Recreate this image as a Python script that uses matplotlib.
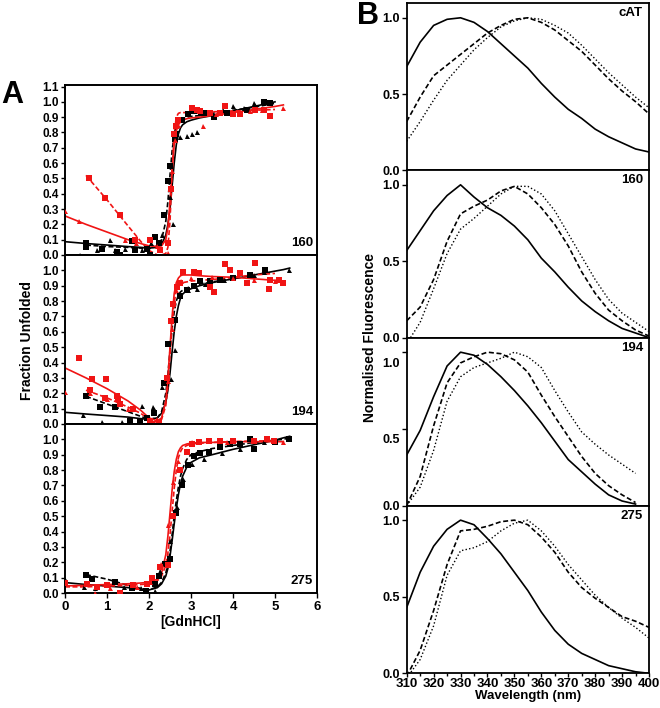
import numpy as np
import matplotlib
matplotlib.use("Agg")
import matplotlib.pyplot as plt
from matplotlib.ticker import MultipleLocator
import matplotlib.transforms as mtransforms

plt.rcParams['font.family'] = ['Liberation Sans', 'DejaVu Sans']
plt.rcParams['font.weight'] = 'bold'

RED = '#f01414'

# ---------------- Panel A data ----------------
PANEL_A_NAMES = ['160', '194', '275']

sq_blk_160_x = [0.5, 0.5, 0.87, 1.23, 1.31, 1.59, 1.67, 1.95, 2.03, 2.15, 2.23, 2.35, 2.46, 2.5, 2.62, 2.65, 2.78, 2.92, 3.08, 3.24, 3.34, 3.54, 3.86, 4.33, 4.73, 4.87]
sq_blk_160_y = [0.08, 0.05, 0.04, 0.02, 0.0, 0.09, 0.03, 0.04, 0.0, 0.12, 0.08, 0.26, 0.48, 0.58, 0.76, 0.79, 0.88, 0.92, 0.94, 0.93, 0.93, 0.90, 0.93, 0.95, 1.0, 0.99]
tri_blk_160_x = [0.36, 0.76, 1.07, 1.19, 1.43, 1.83, 2.04, 2.3, 2.5, 2.57, 2.74, 2.9, 3.02, 3.14, 3.5, 3.75, 4.01, 4.25, 4.49, 4.81]
tri_blk_160_y = [0.0, 0.03, 0.10, 0.03, 0.04, 0.03, 0.08, 0.13, 0.38, 0.20, 0.77, 0.78, 0.79, 0.80, 0.93, 0.95, 0.97, 0.96, 0.99, 1.0]
sq_red_160_x = [0.58, 0.95, 1.31, 1.67, 2.03, 2.25, 2.45, 2.52, 2.6, 2.64, 2.7, 3.02, 3.14, 3.22, 3.46, 3.7, 3.82, 4.01, 4.17, 4.53, 4.73, 4.89]
sq_red_160_y = [0.50, 0.37, 0.26, 0.10, 0.10, 0.03, 0.08, 0.43, 0.79, 0.84, 0.88, 0.96, 0.95, 0.94, 0.93, 0.93, 0.97, 0.92, 0.92, 0.95, 0.95, 0.91]
tri_red_160_x = [0.0, 0.34, 1.43, 1.7, 2.2, 2.46, 2.55, 2.62, 2.68, 3.28, 3.6, 4.0, 4.4, 4.7, 5.2]
tri_red_160_y = [0.29, 0.22, 0.10, 0.08, 0.06, 0.01, 0.55, 0.75, 0.85, 0.84, 0.92, 0.93, 0.94, 0.95, 0.96]

sq_blk_194_x = [0.5, 0.83, 1.19, 1.55, 1.79, 1.95, 2.12, 2.35, 2.46, 2.62, 2.74, 2.9, 3.06, 3.22, 3.46, 3.7, 4.01, 4.41, 4.77]
sq_blk_194_y = [0.18, 0.11, 0.11, 0.02, 0.01, 0.04, 0.07, 0.27, 0.52, 0.68, 0.83, 0.87, 0.9, 0.93, 0.93, 0.94, 0.95, 0.97, 1.0]
tri_blk_194_x = [0.44, 0.87, 1.35, 1.83, 2.1, 2.3, 2.52, 2.62, 2.94, 3.14, 3.34, 3.78, 4.01, 4.49, 4.73, 5.33]
tri_blk_194_y = [0.06, 0.01, 0.01, 0.12, 0.11, 0.24, 0.29, 0.48, 0.87, 0.88, 0.91, 0.94, 0.95, 0.97, 0.99, 1.0]
sq_red_194_x = [0.33, 0.6, 0.65, 0.98, 0.95, 1.23, 1.27, 1.31, 1.63, 2.03, 2.07, 2.23, 2.42, 2.52, 2.58, 2.66, 2.74, 2.82, 3.06, 3.2, 3.46, 3.54, 3.82, 3.93, 4.17, 4.33, 4.53, 4.85, 4.89, 5.09, 5.19]
sq_red_194_y = [0.43, 0.22, 0.29, 0.29, 0.17, 0.18, 0.16, 0.13, 0.10, 0.02, 0.0, 0.01, 0.30, 0.67, 0.78, 0.89, 0.92, 0.99, 0.99, 0.98, 0.89, 0.86, 1.04, 1.0, 0.98, 0.92, 1.05, 0.88, 0.94, 0.94, 0.92]
tri_red_194_x = [0.0, 0.6, 1.0, 1.5, 2.2, 2.45, 2.55, 2.65, 2.75, 3.0, 3.5, 4.0, 4.5, 5.0]
tri_red_194_y = [0.21, 0.20, 0.16, 0.10, 0.03, 0.28, 0.62, 0.87, 0.93, 0.95, 0.96, 0.95, 0.94, 0.93]

sq_blk_275_x = [0.5, 0.64, 1.19, 1.59, 1.93, 2.15, 2.23, 2.39, 2.5, 2.65, 2.78, 2.94, 3.08, 3.22, 3.42, 3.7, 3.93, 4.17, 4.41, 4.49, 4.81, 5.0, 5.33]
sq_blk_275_y = [0.12, 0.09, 0.07, 0.03, 0.01, 0.06, 0.11, 0.19, 0.22, 0.52, 0.70, 0.83, 0.89, 0.91, 0.92, 0.95, 0.97, 0.97, 1.0, 0.94, 1.0, 0.98, 1.0]
tri_blk_275_x = [0.0, 0.45, 0.72, 1.4, 1.8, 2.15, 2.27, 2.5, 2.66, 2.82, 3.02, 3.3, 3.74, 4.17, 4.73, 5.33]
tri_blk_275_y = [0.09, 0.04, 0.03, 0.04, 0.03, 0.01, 0.14, 0.34, 0.56, 0.74, 0.84, 0.87, 0.91, 0.94, 0.98, 1.01]
sq_red_275_x = [0.0, 0.52, 0.76, 0.99, 1.31, 1.63, 1.95, 2.07, 2.27, 2.46, 2.58, 2.74, 2.9, 3.02, 3.18, 3.42, 3.7, 4.01, 4.49, 4.81, 4.97]
sq_red_275_y = [0.065, 0.06, 0.04, 0.05, 0.0, 0.05, 0.06, 0.10, 0.17, 0.18, 0.5, 0.8, 0.92, 0.97, 0.98, 0.99, 0.99, 0.99, 0.99, 1.0, 0.99]
tri_red_275_x = [0.72, 1.07, 1.71, 2.03, 2.28, 2.46, 2.58, 2.7, 3.02, 3.22, 3.86, 5.2]
tri_red_275_y = [0.0, 0.03, 0.04, 0.07, 0.19, 0.44, 0.72, 0.86, 0.98, 0.99, 0.98, 0.98]

# fitted curves, read at these denaturant concentrations (nan = not drawn)
fit_x = [0, 0.5, 1.0, 1.5, 1.8, 2.0, 2.2, 2.3, 2.4, 2.45, 2.5, 2.55, 2.6, 2.65, 2.7, 2.75, 2.8, 2.9, 3.0, 3.2, 3.5, 4.0, 4.5, 5.0, 5.2, 5.35]
nan = np.nan
fit_red_dash_160 = [nan, 0.52, 0.36, 0.19, 0.09, 0.03, 0.0, 0.0, 0.01, 0.05, 0.22, 0.55, 0.80, 0.90, 0.925, 0.93, 0.93, 0.93, 0.93, 0.93, 0.935, 0.94, 0.945, 0.95, nan, nan]
fit_red_sol_160 = [0.255, 0.20, 0.15, 0.10, 0.075, 0.06, 0.055, 0.06, 0.10, 0.18, 0.35, 0.55, 0.72, 0.81, 0.85, 0.87, 0.88, 0.89, 0.895, 0.90, 0.91, 0.93, 0.95, 0.97, 0.98, nan]
fit_blk_sol_160 = [0.087, 0.075, 0.065, 0.055, 0.05, 0.045, 0.05, 0.07, 0.13, 0.2, 0.3, 0.45, 0.6, 0.72, 0.79, 0.83, 0.85, 0.87, 0.88, 0.895, 0.91, 0.94, 0.97, 1.0, nan, nan]
fit_blk_dash_160 = [nan, 0.065, 0.055, 0.05, 0.045, 0.04, 0.06, 0.1, 0.22, 0.35, 0.52, 0.68, 0.79, 0.85, 0.875, 0.885, 0.89, 0.9, 0.905, 0.91, 0.925, 0.945, 0.965, 0.99, nan, nan]

fit_red_sol_194 = [0.365, 0.30, 0.23, 0.15, 0.09, 0.04, 0.02, 0.04, 0.15, 0.3, 0.5, 0.7, 0.85, 0.92, 0.95, 0.965, 0.97, 0.97, 0.97, 0.965, 0.96, 0.955, 0.945, 0.935, 0.93, nan]
fit_red_dash_194 = [nan, 0.22, 0.17, 0.11, 0.07, 0.03, 0.01, 0.03, 0.12, 0.25, 0.45, 0.65, 0.79, 0.87, 0.9, 0.915, 0.92, 0.925, 0.93, 0.935, 0.94, 0.955, 0.97, 0.98, nan, nan]
fit_blk_dash_194 = [nan, 0.18, 0.13, 0.08, 0.05, 0.03, 0.04, 0.08, 0.2, 0.32, 0.48, 0.62, 0.73, 0.8, 0.84, 0.86, 0.87, 0.885, 0.895, 0.91, 0.925, 0.945, 0.97, nan, nan, nan]
fit_blk_sol_194 = [0.076, 0.065, 0.055, 0.045, 0.035, 0.03, 0.04, 0.07, 0.14, 0.22, 0.33, 0.47, 0.6, 0.7, 0.77, 0.82, 0.845, 0.87, 0.88, 0.9, 0.92, 0.945, 0.97, 0.995, 1.005, 1.015]

fit_red_sol_275 = [0.046, 0.05, 0.055, 0.06, 0.065, 0.07, 0.09, 0.13, 0.25, 0.37, 0.52, 0.67, 0.79, 0.87, 0.92, 0.945, 0.96, 0.97, 0.975, 0.98, 0.98, 0.985, 0.985, 0.985, 0.985, nan]
fit_red_dash_275 = [0.04, 0.04, 0.045, 0.05, 0.055, 0.06, 0.08, 0.11, 0.18, 0.26, 0.38, 0.53, 0.68, 0.8, 0.88, 0.92, 0.945, 0.96, 0.97, 0.975, 0.98, 0.985, 0.99, 0.99, nan, nan]
fit_blk_sol_275 = [0.068, 0.055, 0.045, 0.035, 0.025, 0.02, 0.035, 0.06, 0.11, 0.16, 0.24, 0.34, 0.45, 0.55, 0.64, 0.71, 0.76, 0.82, 0.85, 0.88, 0.9, 0.935, 0.965, 0.995, 1.01, 1.02]
fit_blk_dash_275 = [nan, 0.12, 0.09, 0.05, 0.03, 0.02, 0.04, 0.07, 0.13, 0.19, 0.27, 0.38, 0.5, 0.6, 0.69, 0.76, 0.81, 0.87, 0.9, 0.92, 0.94, 0.96, 0.98, 0.995, 1.0, 1.01]

# ---------------- Panel B data ----------------
PANEL_B_NAMES = ['cAT', '160', '194', '275']
wavelength = [310, 315, 320, 325, 330, 335, 340, 345, 350, 355, 360, 365, 370, 375, 380, 385, 390, 395, 400]
cat_solid = [0.68, 0.84, 0.95, 0.99, 1.0, 0.97, 0.91, 0.83, 0.75, 0.67, 0.57, 0.48, 0.40, 0.34, 0.27, 0.22, 0.18, 0.14, 0.12]
cat_dash = [0.32, 0.48, 0.62, 0.69, 0.76, 0.83, 0.90, 0.95, 0.99, 1.0, 0.97, 0.92, 0.85, 0.78, 0.69, 0.60, 0.52, 0.45, 0.37]
cat_dot = [0.19, 0.32, 0.46, 0.59, 0.69, 0.79, 0.87, 0.94, 0.98, 1.0, 0.99, 0.95, 0.90, 0.82, 0.73, 0.64, 0.56, 0.48, 0.41]
m160_solid = [0.57, 0.70, 0.83, 0.93, 1.0, 0.92, 0.85, 0.80, 0.73, 0.64, 0.52, 0.43, 0.33, 0.24, 0.17, 0.11, 0.06, 0.03, 0.0]
m160_dash = [0.11, 0.20, 0.38, 0.63, 0.81, 0.86, 0.90, 0.96, 0.99, 0.94, 0.85, 0.74, 0.60, 0.43, 0.29, 0.18, 0.11, 0.05, 0.01]
m160_dot = [-0.04, 0.10, 0.32, 0.55, 0.71, 0.78, 0.86, 0.94, 0.99, 0.99, 0.94, 0.83, 0.68, 0.53, 0.38, 0.25, 0.16, 0.10, 0.04]
m194_solid = [0.33, 0.49, 0.71, 0.91, 1.0, 0.98, 0.92, 0.84, 0.75, 0.65, 0.54, 0.42, 0.30, 0.22, 0.14, 0.07, 0.03, 0.01, nan]
m194_dash = [0.0, 0.19, 0.52, 0.80, 0.93, 0.97, 1.0, 0.99, 0.95, 0.87, 0.72, 0.58, 0.45, 0.32, 0.21, 0.13, 0.07, 0.02, nan]
m194_dot = [0.0, 0.12, 0.36, 0.68, 0.84, 0.90, 0.93, 0.96, 1.0, 0.97, 0.90, 0.75, 0.61, 0.48, 0.40, 0.33, 0.27, 0.21, nan]
m275_solid = [0.43, 0.66, 0.83, 0.94, 1.0, 0.97, 0.88, 0.78, 0.66, 0.54, 0.40, 0.28, 0.19, 0.13, 0.09, 0.05, 0.03, 0.01, 0.0]
m275_dash = [-0.02, 0.15, 0.41, 0.71, 0.93, 0.94, 0.96, 0.99, 1.0, 0.97, 0.89, 0.79, 0.66, 0.56, 0.49, 0.43, 0.37, 0.34, 0.30]
m275_dot = [-0.03, 0.09, 0.31, 0.64, 0.80, 0.82, 0.86, 0.93, 0.98, 1.0, 0.93, 0.83, 0.71, 0.61, 0.51, 0.43, 0.36, 0.30, 0.23]

# ---------------- Figure ----------------
W, H = 660, 708
fig = plt.figure(figsize=(W / 100, H / 100), dpi=100)

def fbox(x0, y0, x1, y1):
    return [x0 / W, 1 - y1 / H, (x1 - x0) / W, (y1 - y0) / H]

tick_fs_a = 8.5
tick_fs_b = 9

panelA = [
    ('160', [(sq_blk_160_x, sq_blk_160_y, 's', 'k'), (tri_blk_160_x, tri_blk_160_y, '^', 'k'),
             (sq_red_160_x, sq_red_160_y, 's', RED), (tri_red_160_x, tri_red_160_y, '^', RED)],
     [(fit_blk_sol_160, 'k', '-'), (fit_blk_dash_160, 'k', '--'), (fit_red_sol_160, RED, '-'), (fit_red_dash_160, RED, '--')]),
    ('194', [(sq_blk_194_x, sq_blk_194_y, 's', 'k'), (tri_blk_194_x, tri_blk_194_y, '^', 'k'),
             (sq_red_194_x, sq_red_194_y, 's', RED), (tri_red_194_x, tri_red_194_y, '^', RED)],
     [(fit_blk_sol_194, 'k', '-'), (fit_blk_dash_194, 'k', '--'), (fit_red_sol_194, RED, '-'), (fit_red_dash_194, RED, '--')]),
    ('275', [(sq_blk_275_x, sq_blk_275_y, 's', 'k'), (tri_blk_275_x, tri_blk_275_y, '^', 'k'),
             (sq_red_275_x, sq_red_275_y, 's', RED), (tri_red_275_x, tri_red_275_y, '^', RED)],
     [(fit_blk_sol_275, 'k', '-'), (fit_blk_dash_275, 'k', '--'), (fit_red_sol_275, RED, '-'), (fit_red_dash_275, RED, '--')]),
]
a_bounds = [85, 255, 424, 593]
for i, (name, scat, fits) in enumerate(panelA):
    ax = fig.add_axes(fbox(65, a_bounds[i], 317, a_bounds[i + 1]))
    for ys, c, ls in fits:
        if ls == '--':
            ax.plot(fit_x, ys, color=c, lw=1.2, dashes=(3, 1.5), zorder=2)
        else:
            ax.plot(fit_x, ys, color=c, lw=1.2, ls='-', zorder=2)
    for xs, ys, m, c in scat:
        ax.plot(xs, ys, ls='none', marker=m, color=c, ms=4.2 if m == 's' else 3.6, mew=0, zorder=3)
    ax.set_xlim(0, 6)
    ax.set_ylim(0, 1.11 if i == 0 else 1.1)
    ax.set_yticks(np.round(np.arange(0, 1.11 if i == 0 else 1.01, 0.1), 1))
    ax.yaxis.set_major_formatter(matplotlib.ticker.FormatStrFormatter('%.1f'))
    ax.tick_params(axis='y', direction='out', length=3, width=1, labelsize=tick_fs_a, pad=1.5)
    if i == 2:
        ax.set_xticks(range(0, 7))
        ax.tick_params(axis='x', direction='out', length=3.5, width=1, labelsize=tick_fs_a + 1, pad=2)
        ax.set_xlabel('[GdnHCl]', fontsize=10, fontweight='bold', labelpad=2)
    else:
        ax.set_xticks([])
    for s in ax.spines.values():
        s.set_linewidth(1.4)
    ax.text(0.985, 0.035, name, transform=ax.transAxes, ha='right', va='bottom', fontsize=9.5, fontweight='bold')
    for lab in ax.get_yticklabels() + ax.get_xticklabels():
        lab.set_fontweight('bold')

fig.text(27 / W, 1 - 340 / H, 'Fraction Unfolded', rotation=90, ha='center', va='center', fontsize=10, fontweight='bold')
fig.text(1 / W, 1 - 103 / H, 'A', fontsize=22, fontweight='bold', ha='left', va='baseline')

panelB = [
    ('cAT', cat_solid, cat_dash, cat_dot),
    ('160', m160_solid, m160_dash, m160_dot),
    ('194', m194_solid, m194_dash, m194_dot),
    ('275', m275_solid, m275_dash, m275_dot),
]
b_bounds = [3.3, 170.3, 337.6, 505.6, 673.3]
for i, (name, sol, dsh, dot) in enumerate(panelB):
    ax = fig.add_axes(fbox(406.7, b_bounds[i], 649, b_bounds[i + 1]))
    ax.plot(wavelength, sol, color='k', lw=1.2, ls='-')
    ax.plot(wavelength, dsh, color='k', lw=1.2, dashes=(3, 1.6))
    ax.plot(wavelength, dot, color='k', lw=1.0, dashes=(1, 1.6))
    ax.set_xlim(310, 400)
    ax.set_ylim(0, 1.095)
    ax.set_yticks([0, 0.5, 1.0])
    ax.yaxis.set_major_formatter(matplotlib.ticker.FormatStrFormatter('%.1f'))
    ax.tick_params(axis='y', direction='out', length=3.5, width=1, labelsize=tick_fs_b, pad=1.5)
    if i == 3:
        ax.set_xticks(range(310, 401, 10))
        ax.xaxis.set_minor_locator(MultipleLocator(5))
        ax.tick_params(axis='x', which='major', direction='out', length=3, width=1, labelsize=9.5, pad=0.5)
        ax.tick_params(axis='x', which='minor', direction='out', length=2, width=1)
        ax.set_xlabel('Wavelength (nm)', fontsize=9.5, fontweight='bold', labelpad=0)
    else:
        ax.set_xticks([])
    for s in ax.spines.values():
        s.set_linewidth(1.3)
    ax.text(0.975, 0.975, name, transform=ax.transAxes, ha='right', va='top', fontsize=9.5, fontweight='bold')
    for lab in ax.get_yticklabels() + ax.get_xticklabels():
        lab.set_fontweight('bold')
    if name == '194':
        off = mtransforms.ScaledTranslation(0, -0.1, fig.dpi_scale_trans)
        for t in ax.yaxis.get_major_ticks()[1:]:
            t.label1.set_transform(t.label1.get_transform() + off)

fig.text(370 / W, 1 - 338 / H, 'Normalised Fluorescence', rotation=90, ha='center', va='center', fontsize=10, fontweight='bold')
fig.text(357 / W, 1 - 24 / H, 'B', fontsize=22, fontweight='bold', ha='left', va='baseline')

fig.savefig('out.png', dpi=100)
